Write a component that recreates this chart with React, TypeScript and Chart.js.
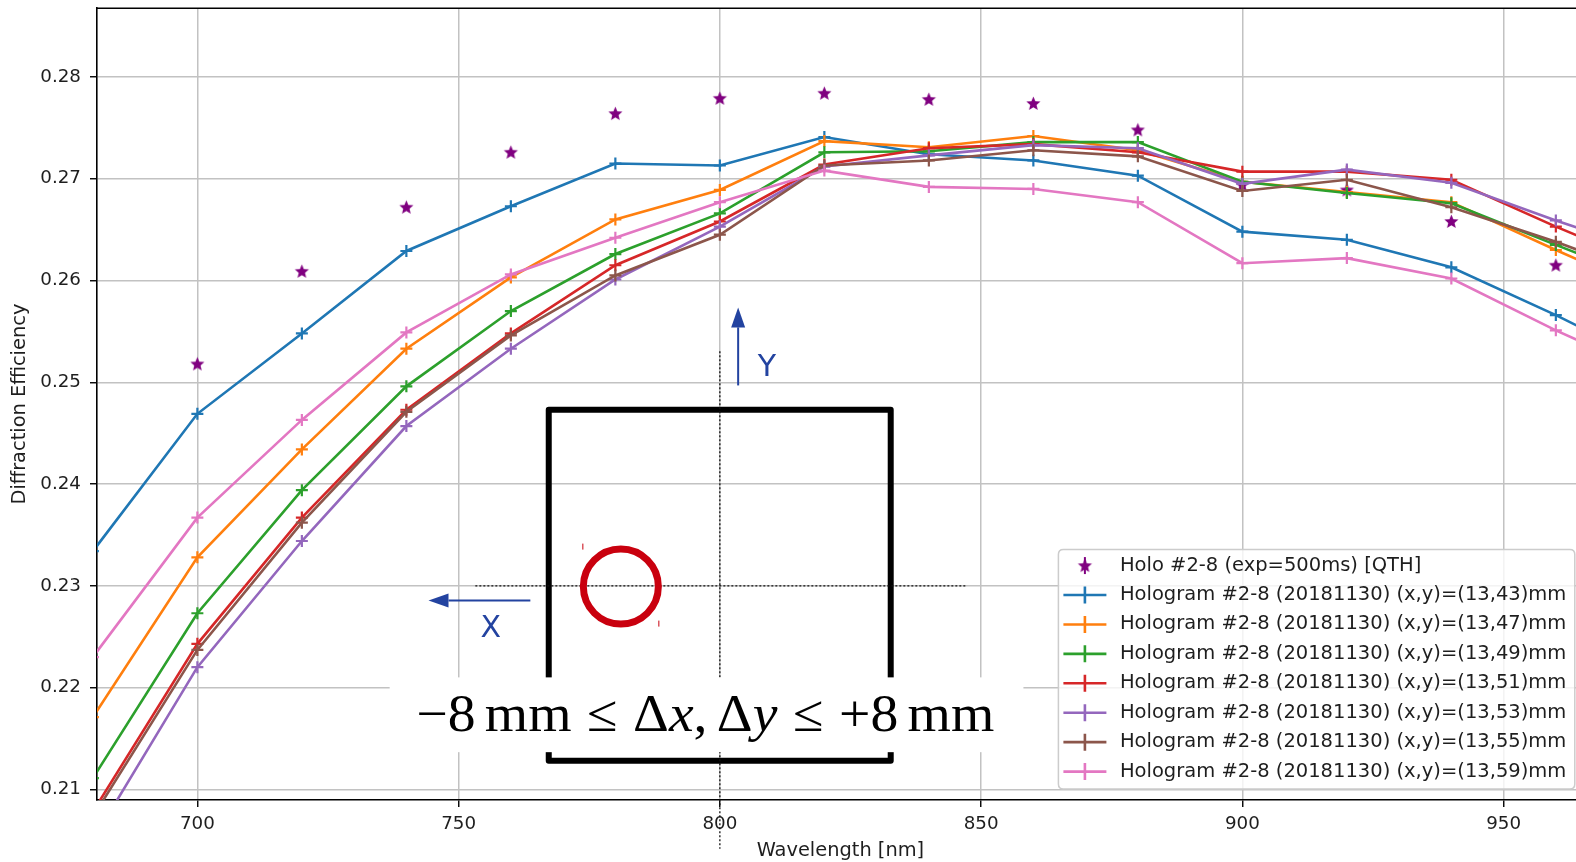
import React, { useEffect, useRef } from "react";
import { Chart, registerables } from "chart.js";

Chart.register(...registerables);

// ---------------- data ----------------
const wavelengths = [680, 700, 720, 740, 760, 780, 800, 820, 840, 860, 880, 900, 920, 940, 960, 980];
const holoWavelengths = [700, 720, 740, 760, 780, 800, 820, 840, 860, 880, 900, 920, 940, 960];

const holoQTH = [0.2518, 0.2609, 0.2672, 0.2726, 0.2764, 0.2779, 0.2784, 0.2778, 0.2774, 0.2748, 0.2694, 0.2689, 0.2658, 0.2615];

const pos1343 = [0.2334, 0.2469, 0.2548, 0.2629, 0.2673, 0.2715, 0.2713, 0.2741, 0.2724, 0.2718, 0.2703, 0.2648, 0.2640, 0.2613, 0.2566, 0.2515];
const pos1347 = [0.2171, 0.2328, 0.2434, 0.2533, 0.2603, 0.2660, 0.2689, 0.2737, 0.2731, 0.2742, 0.2728, 0.2697, 0.2687, 0.2677, 0.2630, 0.2585];
const pos1349 = [0.2111, 0.2273, 0.2394, 0.2496, 0.2570, 0.2626, 0.2666, 0.2726, 0.2727, 0.2736, 0.2736, 0.2697, 0.2686, 0.2676, 0.2635, 0.2595];
const pos1351 = [0.2078, 0.2243, 0.2367, 0.2473, 0.2548, 0.2615, 0.2658, 0.2714, 0.2730, 0.2734, 0.2726, 0.2707, 0.2707, 0.2699, 0.2653, 0.2610];
const pos1353 = [0.2050, 0.2220, 0.2344, 0.2457, 0.2533, 0.2601, 0.2653, 0.2712, 0.2723, 0.2733, 0.2730, 0.2695, 0.2709, 0.2696, 0.2659, 0.2625];
const pos1355 = [0.2073, 0.2237, 0.2362, 0.2471, 0.2546, 0.2605, 0.2645, 0.2713, 0.2718, 0.2728, 0.2722, 0.2688, 0.2699, 0.2672, 0.2638, 0.2600];
const pos1359 = [0.2230, 0.2367, 0.2463, 0.2549, 0.2606, 0.2642, 0.2677, 0.2708, 0.2692, 0.2690, 0.2677, 0.2617, 0.2622, 0.2602, 0.2551, 0.2505];

const holoLabel = "Holo #2-8 (exp=500ms) [QTH]";
const hologramLabels = [
  "Hologram #2-8 (20181130) (x,y)=(13,43)mm",
  "Hologram #2-8 (20181130) (x,y)=(13,47)mm",
  "Hologram #2-8 (20181130) (x,y)=(13,49)mm",
  "Hologram #2-8 (20181130) (x,y)=(13,51)mm",
  "Hologram #2-8 (20181130) (x,y)=(13,53)mm",
  "Hologram #2-8 (20181130) (x,y)=(13,55)mm",
  "Hologram #2-8 (20181130) (x,y)=(13,59)mm",
];
const hologramSeries = [pos1343, pos1347, pos1349, pos1351, pos1353, pos1355, pos1359];

const xTickValues = [700, 750, 800, 850, 900, 950];
const yTickValues = [0.21, 0.22, 0.23, 0.24, 0.25, 0.26, 0.27, 0.28];

const xTitle = "Wavelength [nm]";
const yTitle = "Diffraction Efficiency";

// ---------------- styles ----------------
const seriesColors = ["#1f77b4", "#ff7f0e", "#2ca02c", "#d62728", "#9467bd", "#8c564b", "#e377c2"];
const holoColor = "#800080";
const FONT = "'DejaVu Sans', 'Noto Sans', sans-serif";
const TEXT_COLOR = "#1e1e1e";

// Annotation placement (data units of the axes)
const ANNOT = {
  box: { x0: 767.25, x1: 832.7, y0: 0.2128, y1: 0.2473 },
  whiteBg: { x0: 736.8, x1: 858.1, y0: 0.21365, y1: 0.2210 },
  math: { xc: 797.2, yBase: 0.21576 },
  circle: { x: 781.05, y: 0.22992 },
  crossV: { x: 800, y0: 0.20415, y1: 0.25305 },
  crossH: { y: 0.23, x0: 753.2, x1: 847.25 },
  arrowY: { x: 803.5, y0: 0.24969, y1: 0.25736 },
  arrowX: { y: 0.22855, x0: 763.73, x1: 744.24 },
  labelY: { x: 809.0, y: 0.25135 },
  labelX: { x: 756.16, y: 0.22577 },
};
const ARROW_COLOR = "#2343a0";
const CIRCLE_COLOR = "#c9000e";

function makeStar(color: string) {
  const c = document.createElement("canvas");
  c.width = 17;
  c.height = 17;
  const g = c.getContext("2d")!;
  const R = 7.4;
  const r = R * 0.45;
  g.beginPath();
  for (let i = 0; i < 10; i++) {
    const rad = i % 2 === 0 ? R : r;
    const a = -Math.PI / 2 + (i * Math.PI) / 5;
    const px = 8.5 + rad * Math.cos(a);
    const py = 8.9 + rad * Math.sin(a);
    if (i === 0) g.moveTo(px, py);
    else g.lineTo(px, py);
  }
  g.closePath();
  g.fillStyle = color;
  g.fill();
  return c;
}

function arrow(ctx: CanvasRenderingContext2D, x0: number, y0: number, x1: number, y1: number) {
  const len = 20;
  const half = 7;
  const ang = Math.atan2(y1 - y0, x1 - x0);
  const bx = x1 - len * Math.cos(ang);
  const by = y1 - len * Math.sin(ang);
  ctx.beginPath();
  ctx.moveTo(x0, y0);
  ctx.lineTo(bx, by);
  ctx.stroke();
  ctx.beginPath();
  ctx.moveTo(x1, y1);
  ctx.lineTo(bx + half * Math.sin(ang), by - half * Math.cos(ang));
  ctx.lineTo(bx - half * Math.sin(ang), by + half * Math.cos(ang));
  ctx.closePath();
  ctx.fill();
}

const overlayPlugin = {
  id: "overlayAnnotations",
  afterDraw(chart: any) {
    const { ctx, scales } = chart;
    const X = (v: number) => scales.x.getPixelForValue(v);
    const Y = (v: number) => scales.y.getPixelForValue(v);
    const topSpineY = chart.chartArea.top;
    ctx.save();
    // top spine
    ctx.strokeStyle = "#000";
    ctx.lineWidth = 1.6;
    ctx.beginPath();
    ctx.moveTo(chart.chartArea.left, topSpineY);
    ctx.lineTo(chart.chartArea.right, topSpineY);
    ctx.stroke();

    // black box
    const b = ANNOT.box;
    ctx.lineWidth = 6;
    ctx.lineJoin = "round";
    ctx.strokeStyle = "#000";
    ctx.strokeRect(X(b.x0), Y(b.y1), X(b.x1) - X(b.x0), Y(b.y0) - Y(b.y1));

    // dotted cross
    ctx.setLineDash([2, 2]);
    ctx.lineWidth = 1.3;
    ctx.strokeStyle = "#111";
    ctx.beginPath();
    ctx.moveTo(X(ANNOT.crossV.x), Y(ANNOT.crossV.y1));
    ctx.lineTo(X(ANNOT.crossV.x), Y(ANNOT.crossV.y0));
    ctx.moveTo(X(ANNOT.crossH.x0), Y(ANNOT.crossH.y));
    ctx.lineTo(X(ANNOT.crossH.x1), Y(ANNOT.crossH.y));
    ctx.stroke();
    ctx.setLineDash([]);

    // red circle
    const cx = X(ANNOT.circle.x);
    const cy = Y(ANNOT.circle.y);
    ctx.strokeStyle = CIRCLE_COLOR;
    ctx.lineWidth = 7;
    ctx.beginPath();
    ctx.arc(cx, cy, 37.5, 0, Math.PI * 2);
    ctx.stroke();
    ctx.lineWidth = 1;
    ctx.beginPath();
    ctx.moveTo(cx - 38, cy - 43);
    ctx.lineTo(cx - 38, cy - 37);
    ctx.moveTo(cx + 38, cy + 34);
    ctx.lineTo(cx + 38, cy + 40);
    ctx.stroke();

    // white background behind formula
    const w = ANNOT.whiteBg;
    ctx.fillStyle = "#fff";
    ctx.fillRect(X(w.x0), Y(w.y1), X(w.x1) - X(w.x0), Y(w.y0) - Y(w.y1));

    // formula
    const fs = 52;
    const runs: any[] = [
      { t: "\u22128" }, { g: 0.167 }, { t: "mm" }, { g: 0.278 }, { t: "\u2264" }, { g: 0.278 },
      { t: "\u0394" }, { t: "x", it: true }, { t: "," }, { g: 0.167 }, { t: "\u0394" }, { t: "y", it: true },
      { g: 0.278 }, { t: "\u2264" }, { g: 0.278 }, { t: "+8" }, { g: 0.167 }, { t: "mm" },
    ];
    const fontOf = (it: boolean) => `${it ? "italic " : ""}${fs}px 'Liberation Serif', 'DejaVu Serif', serif`;
    let total = 0;
    for (const r of runs) {
      if (r.g) total += r.g * fs;
      else {
        ctx.font = fontOf(!!r.it);
        total += ctx.measureText(r.t).width;
      }
    }
    const targetW = 578;
    const sx = targetW / total;
    ctx.save();
    ctx.translate(X(ANNOT.math.xc) - targetW / 2, Y(ANNOT.math.yBase));
    ctx.scale(sx, 1);
    ctx.fillStyle = "#000";
    ctx.textBaseline = "alphabetic";
    ctx.textAlign = "left";
    let pos = 0;
    for (const r of runs) {
      if (r.g) pos += r.g * fs;
      else {
        ctx.font = fontOf(!!r.it);
        ctx.fillText(r.t, pos, 0);
        pos += ctx.measureText(r.t).width;
      }
    }
    ctx.restore();

    // blue arrows
    ctx.strokeStyle = ARROW_COLOR;
    ctx.fillStyle = ARROW_COLOR;
    ctx.lineWidth = 2;
    arrow(ctx, X(ANNOT.arrowY.x), Y(ANNOT.arrowY.y0), X(ANNOT.arrowY.x), Y(ANNOT.arrowY.y1));
    arrow(ctx, X(ANNOT.arrowX.x0), Y(ANNOT.arrowX.y), X(ANNOT.arrowX.x1), Y(ANNOT.arrowX.y));
    ctx.font = `30px ${FONT}`;
    ctx.textAlign = "center";
    ctx.textBaseline = "middle";
    ctx.fillText("Y", X(ANNOT.labelY.x), Y(ANNOT.labelY.y));
    ctx.fillText("X", X(ANNOT.labelX.x), Y(ANNOT.labelX.y));
    ctx.restore();
  },
};

function makeLegendPlugin(star: HTMLCanvasElement) {
  return {
    id: "mplLegend",
    afterDraw(chart: any) {
      const { ctx, chartArea } = chart;
      ctx.save();
      ctx.font = `19.5px ${FONT}`;
      const labels = [holoLabel, ...hologramLabels];
      const textW = Math.max(...labels.map((l) => ctx.measureText(l).width));
      const rowH = 29.43;
      const w = 61.5 + textW + 8.5;
      const h = labels.length * rowH + 4;
      const right = chartArea.right - 9;
      const bottom = chartArea.bottom - 11;
      const left = right - w;
      const top = bottom - h;
      const rr = 5;
      ctx.beginPath();
      ctx.moveTo(left + rr, top);
      ctx.lineTo(left + w - rr, top);
      ctx.quadraticCurveTo(left + w, top, left + w, top + rr);
      ctx.lineTo(left + w, top + h - rr);
      ctx.quadraticCurveTo(left + w, top + h, left + w - rr, top + h);
      ctx.lineTo(left + rr, top + h);
      ctx.quadraticCurveTo(left, top + h, left, top + h - rr);
      ctx.lineTo(left, top + rr);
      ctx.quadraticCurveTo(left, top, left + rr, top);
      ctx.closePath();
      ctx.fillStyle = "rgba(255,255,255,0.8)";
      ctx.fill();
      ctx.strokeStyle = "#cccccc";
      ctx.lineWidth = 1.5;
      ctx.stroke();

      labels.forEach((lab, i) => {
        const cy = top + 1.3 + rowH / 2 + i * rowH;
        const hx = left + 26.5;
        if (i === 0) {
          ctx.strokeStyle = holoColor;
          ctx.lineWidth = 2;
          ctx.beginPath();
          ctx.moveTo(hx, cy - 8.5);
          ctx.lineTo(hx, cy + 8.5);
          ctx.stroke();
          ctx.drawImage(star, hx - star.width / 2, cy - star.height / 2);
        } else {
          const col = seriesColors[i - 1];
          ctx.strokeStyle = col;
          ctx.lineWidth = 2.6;
          ctx.beginPath();
          ctx.moveTo(left + 5, cy);
          ctx.lineTo(left + 48, cy);
          ctx.moveTo(hx, cy - 8.5);
          ctx.lineTo(hx, cy + 8.5);
          ctx.stroke();
        }
        ctx.fillStyle = TEXT_COLOR;
        ctx.textBaseline = "middle";
        ctx.textAlign = "left";
        ctx.fillText(lab, left + 61.5, cy);
      });
      ctx.restore();
    },
  };
}

export default function App() {
  const ref = useRef<HTMLCanvasElement>(null);
  useEffect(() => {
    document.body.style.margin = "0";
    const canvas = ref.current!;
    const star = makeStar(holoColor);
    Chart.defaults.font.family = FONT;

    const datasets: any[] = [
      {
        label: holoLabel,
        data: holoWavelengths.map((x, i) => ({ x, y: holoQTH[i] })),
        showLine: false,
        pointStyle: star,
        pointRadius: 7,
        borderColor: holoColor,
        backgroundColor: holoColor,
        clip: 0,
        order: 20,
      },
      ...hologramSeries.map((vals, i) => ({
        label: hologramLabels[i],
        data: wavelengths.map((x, j) => ({ x, y: vals[j] })),
        showLine: true,
        borderColor: seriesColors[i],
        backgroundColor: seriesColors[i],
        borderWidth: 2.6,
        pointStyle: "cross",
        pointRadius: 6,
        pointBorderWidth: 2.2,
        pointBorderColor: seriesColors[i],
        tension: 0,
        clip: 0,
        order: 10 - i,
      })),
    ];

    const tickFont = { family: FONT, size: 18.3 };
    const titleFont = { family: FONT, size: 19.4, lineHeight: 1.0 };

    const chart = new Chart(canvas, {
      type: "scatter",
      data: { datasets },
      options: {
        animation: false,
        responsive: false,
        devicePixelRatio: 1,
        layout: { padding: { top: 6, right: 6, bottom: 0, left: 0 } },
        plugins: { legend: { display: false }, tooltip: { enabled: false } },
        scales: {
          x: {
            type: "linear",
            min: 680.79,
            max: 965.35,
            afterBuildTicks: (s: any) => {
              s.ticks = xTickValues.map((v) => ({ value: v }));
            },
            afterFit: (s: any) => {
              s.height = 62;
              s.paddingLeft = 0;
              s.paddingRight = 0;
            },
            ticks: {
              font: tickFont,
              color: TEXT_COLOR,
              padding: 6,
              maxRotation: 0,
              autoSkip: false,
              callback: (v: any) => String(v),
            },
            grid: { color: "#c2c2c2", lineWidth: 1.5, tickColor: "#000", tickLength: 7, tickWidth: 1.4 },
            border: { display: true, color: "#000", width: 1.6 },
            title: { display: true, text: xTitle, font: titleFont, color: TEXT_COLOR, padding: { top: 0, bottom: 1.3 } },
          },
          y: {
            type: "linear",
            min: 0.20895,
            max: 0.28676,
            afterBuildTicks: (s: any) => {
              s.ticks = yTickValues.map((v) => ({ value: v }));
            },
            afterFit: (s: any) => {
              s.width = 97;
              s.paddingTop = 0;
              s.paddingBottom = 0;
            },
            ticks: {
              font: tickFont,
              color: TEXT_COLOR,
              padding: 9,
              autoSkip: false,
              callback: (v: any) => Number(v).toFixed(2),
            },
            grid: { color: "#c2c2c2", lineWidth: 1.5, tickColor: "#000", tickLength: 7, tickWidth: 1.4 },
            border: { display: true, color: "#000", width: 1.6 },
            title: { display: true, text: yTitle, font: titleFont, color: TEXT_COLOR, padding: { top: 10.5, bottom: 0 } },
          },
        },
      } as any,
      plugins: [overlayPlugin, makeLegendPlugin(star)],
    });
    return () => chart.destroy();
  }, []);

  return (
    <div style={{ position: "absolute", left: 0, top: 0, width: 1576, height: 862, overflow: "hidden", background: "#fff" }}>
      <canvas ref={ref} width={1592} height={862} style={{ display: "block", width: 1592, height: 862 }} />
    </div>
  );
}
